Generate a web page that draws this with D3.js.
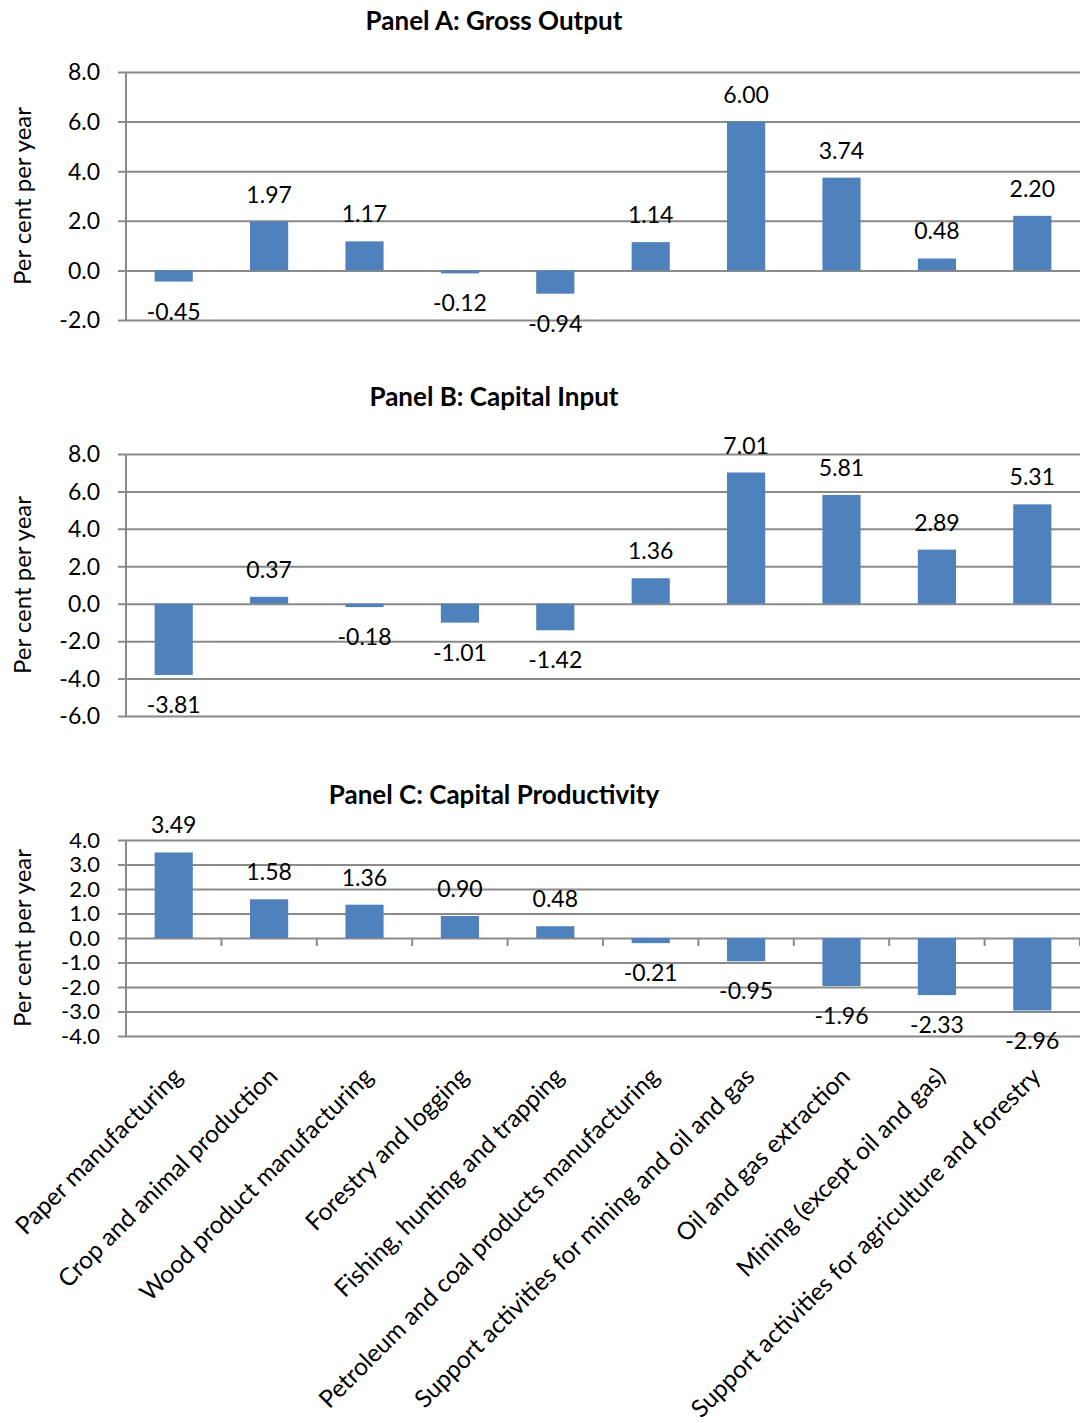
<!DOCTYPE html>
<html>
<head>
<meta charset="utf-8">
<script src="https://cdn.jsdelivr.net/npm/d3@7"></script>
<style>
  html, body { margin: 0; padding: 0; background: #ffffff; }
  svg { display: block; font-family: Lato, "Open Sans", sans-serif; }
</style>
</head>
<body>
<svg id="chart" width="1080" height="1423"></svg>
<script>
// Industries along the horizontal axis (shared by all three panels)
const categories = [
  "Paper manufacturing",
  "Crop and animal production",
  "Wood product manufacturing",
  "Forestry and logging",
  "Fishing, hunting and trapping",
  "Petroleum and coal products manufacturing",
  "Support activities for mining and oil and gas",
  "Oil and gas extraction",
  "Mining (except oil and gas)",
  "Support activities for agriculture and forestry"
];

// Average annual growth, per cent per year
const grossOutput = [-0.45, 1.97, 1.17, -0.12, -0.94, 1.14, 6.00, 3.74, 0.48, 2.20];
const capitalInput = [-3.81, 0.37, -0.18, -1.01, -1.42, 1.36, 7.01, 5.81, 2.89, 5.31];
const capitalProductivity = [3.49, 1.58, 1.36, 0.90, 0.48, -0.21, -0.95, -1.96, -2.33, -2.96];

// Value-axis ticks for each panel
const ticksA = [-2, 0, 2, 4, 6, 8];
const ticksB = [-6, -4, -2, 0, 2, 4, 6, 8];
const ticksC = [-4, -3, -2, -1, 0, 1, 2, 3, 4];

const panelTitles = ["Panel A: Gross Output", "Panel B: Capital Input", "Panel C: Capital Productivity"];
const yAxisTitle = "Per cent per year";

const BAR = "#4f81bd";
const GRID = "#8a8a8a";
const svg = d3.select("#chart");

// plain hyphen for negative numbers
const fmt1 = v => d3.format(".1f")(v).replace("\u2212", "-");
const fmt2 = v => d3.format(".2f")(v).replace("\u2212", "-");

const plotLeft = 126, plotRight = 1080;
const x = d3.scaleBand()
  .domain(categories)
  .range([plotLeft, plotRight])
  .paddingInner(0.6)
  .paddingOuter(0.3);

function drawPanel(opts) {
  const { values, ticks, top, bottom, title, titleY, catTicks, tickFont } = opts;
  const y = d3.scaleLinear()
    .domain([d3.min(ticks), d3.max(ticks)])
    .range([bottom, top]);

  const g = svg.append("g");

  // panel title
  g.append("text")
    .attr("x", 494)
    .attr("y", titleY)
    .attr("text-anchor", "middle")
    .attr("font-weight", "bold")
    .attr("font-size", 26)
    .attr("fill", "#000")
    .text(title);

  // value axis with full-width gridlines
  const axis = g.append("g")
    .attr("transform", `translate(${plotLeft},0)`)
    .call(d3.axisLeft(y).tickValues(ticks).tickFormat(fmt1).tickSize(0).tickPadding(26));
  axis.select(".domain").remove();
  axis.selectAll(".tick line")
    .attr("x1", -8)
    .attr("x2", plotRight - plotLeft)
    .attr("stroke", GRID)
    .attr("stroke-width", 2);
  axis.selectAll(".tick text")
    .attr("font-size", tickFont || 23)
    .attr("font-family", "Lato, sans-serif")
    .attr("fill", "#000")
    .attr("dy", "0.34em");

  // vertical axis line
  g.append("line")
    .attr("x1", plotLeft).attr("x2", plotLeft)
    .attr("y1", y(d3.max(ticks))).attr("y2", y(d3.min(ticks)))
    .attr("stroke", GRID).attr("stroke-width", 2);

  // category tick marks below the zero line
  if (catTicks) {
    const bounds = categories.map(c => x(c) - x.step() * 0.3).concat([plotRight]);
    g.selectAll(".cat-tick")
      .data(bounds)
      .join("line")
      .attr("x1", d => d).attr("x2", d => d)
      .attr("y1", y(0)).attr("y2", y(0) + 8)
      .attr("stroke", GRID).attr("stroke-width", 2);
  }

  // bars
  g.selectAll(".bar")
    .data(values)
    .join("rect")
    .attr("x", (d, i) => x(categories[i]))
    .attr("width", x.bandwidth())
    .attr("y", d => y(Math.max(0, d)))
    .attr("height", d => Math.abs(y(d) - y(0)))
    .attr("fill", BAR);

  // value labels at the outer end of each bar
  g.selectAll(".val")
    .data(values)
    .join("text")
    .attr("x", (d, i) => x(categories[i]) + x.bandwidth() / 2)
    .attr("y", d => d >= 0 ? y(d) - 19 : y(d) + 38)
    .attr("text-anchor", "middle")
    .attr("font-size", 23)
    .attr("fill", "#000")
    .text(fmt2);

  // rotated y-axis title
  g.append("text")
    .attr("transform", `translate(31,${(top + bottom) / 2}) rotate(-90)`)
    .attr("text-anchor", "middle")
    .attr("font-size", 24)
    .attr("fill", "#000")
    .text(yAxisTitle);

  return y;
}

drawPanel({ values: grossOutput, ticks: ticksA, top: 72, bottom: 320, title: panelTitles[0], titleY: 30 });
drawPanel({ values: capitalInput, ticks: ticksB, top: 454, bottom: 716, title: panelTitles[1], titleY: 406 });
drawPanel({ values: capitalProductivity, ticks: ticksC, top: 840, bottom: 1036, title: panelTitles[2], titleY: 804, catTicks: true, tickFont: 22 });

// rotated category labels under the bottom panel
svg.append("g")
  .selectAll("text")
  .data(categories)
  .join("text")
  .attr("transform", d => `translate(${x(d) + x.bandwidth() / 2 + 10},${1078}) rotate(-45)`)
  .attr("text-anchor", "end")
  .attr("font-size", 24.5)
  .attr("fill", "#000")
  .text(d => d);
</script>
</body>
</html>
